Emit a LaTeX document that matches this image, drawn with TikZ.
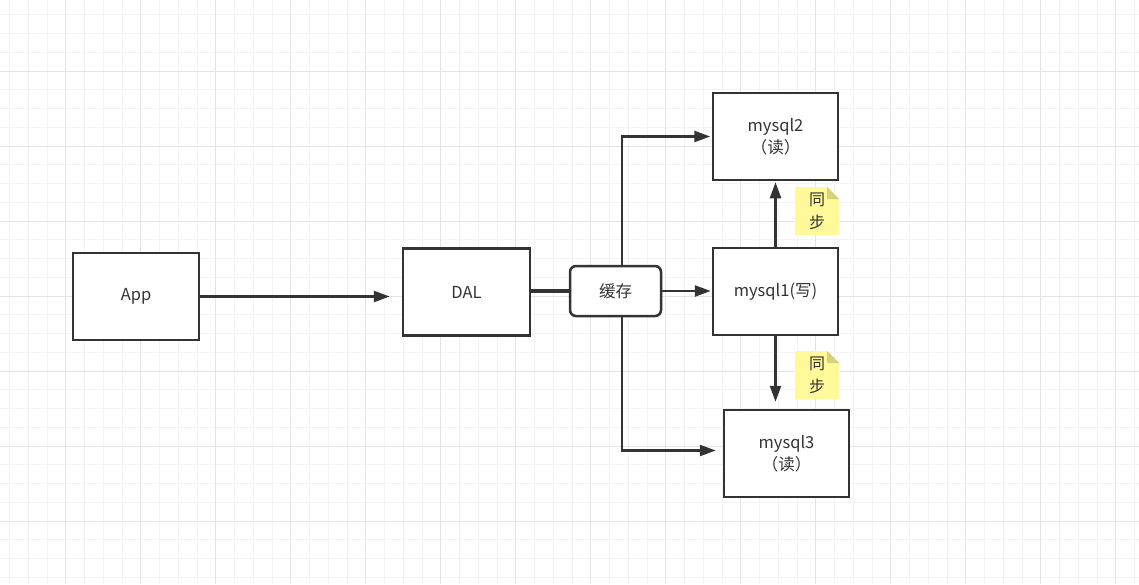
\documentclass[tikz,border=0pt]{standalone}
\usepackage{fontspec}
\setmainfont{Noto Sans CJK SC}
\usetikzlibrary{arrows.meta}
\definecolor{ink}{HTML}{333333}
\definecolor{gminor}{HTML}{F3F3F3}
\definecolor{gmajor}{HTML}{E4E4E4}
\definecolor{notefill}{HTML}{FFF99A}
\definecolor{notefold}{HTML}{D6D27A}
\tikzset{
  box/.style={draw=ink, line width=2.5pt, fill=white, inner sep=0pt, align=center,
    minimum width=125pt, minimum height=87pt, text=ink, font=\fontsize{16.5}{21.5}\selectfont},
  cachebox/.style={box, rounded corners=6pt, minimum width=91pt, minimum height=50pt},
  conn/.style={draw=ink, line width=2.5pt},
  arr/.style={conn, -{Triangle[length=16pt,width=11pt]}},
  notebox/.style={inner sep=0pt, minimum width=44pt, minimum height=48pt, align=center,
    text=ink, font=\fontsize{16}{23}\selectfont,
    path picture={
      \fill[notefill] (path picture bounding box.south west) -- (path picture bounding box.north west)
        -- ([xshift=-12pt]path picture bounding box.north east)
        -- ([yshift=-12pt]path picture bounding box.north east)
        -- (path picture bounding box.south east) -- cycle;
      \fill[notefold] ([xshift=-12pt]path picture bounding box.north east)
        -- ([yshift=-12pt]path picture bounding box.north east)
        -- ([xshift=-12pt,yshift=-12pt]path picture bounding box.north east) -- cycle;
    }}
}
\begin{document}
\begin{tikzpicture}[x=1pt,y=-1pt]
\useasboundingbox (0,0) rectangle (1139,584);
\fill[white] (0,0) rectangle (1139,584);
% grid
\foreach \k in {0,...,60} {\draw[gminor, line width=1pt] ({9.5+18.75*\k},0) -- ({9.5+18.75*\k},584);}
\foreach \k in {0,...,31} {\draw[gminor, line width=1pt] (0,{14.75+18.75*\k}) -- (1139,{14.75+18.75*\k});}
\foreach \k in {0,...,15} {\draw[gmajor, line width=1pt] ({65.5+75*\k},0) -- ({65.5+75*\k},584);}
\foreach \k in {0,...,7} {\draw[gmajor, line width=1pt] (0,{71+75*\k}) -- (1139,{71+75*\k});}

% nodes
\node[box, minimum width=126pt] (app) at (136,296.5) {App};
\node[box, minimum width=127pt] (dal) at (466.5,292) {DAL};
\node[cachebox] (cache) at (615.5,291) {缓存};
\node[box] (m2) at (775.5,136.5) {mysql2\\（读）};
\node[box] (m1) at (775.5,291.5) {mysql1(写)};
\node[box] (m3) at (786.5,453.5) {mysql3\\（读）};
\node[notebox] (n1) at (817,211) {同\\步};
\node[notebox] (n2) at (817,375) {同\\步};

% connectors
\draw[arr, shorten >=12pt] (app.east) -- (app.east -| dal.west);
\draw[conn, line width=3.5pt] (dal.east |- cache.west) -- (cache.west);
\draw[arr, shorten >=1pt] (cache.east) -- (cache.east -| m1.west);
\draw[arr, shorten >=1.5pt] ([xshift=6.5pt]cache.north) |- (m2.west);
\draw[arr, shorten >=7pt] ([xshift=6.5pt]cache.south) |- ([yshift=3pt]m3.west);
\draw[arr, shorten >=1pt] (m1.north) -- (m2.south);
\draw[arr, shorten >=7pt] (m1.south) -- (m1.south |- m3.north);
\end{tikzpicture}
\end{document}
